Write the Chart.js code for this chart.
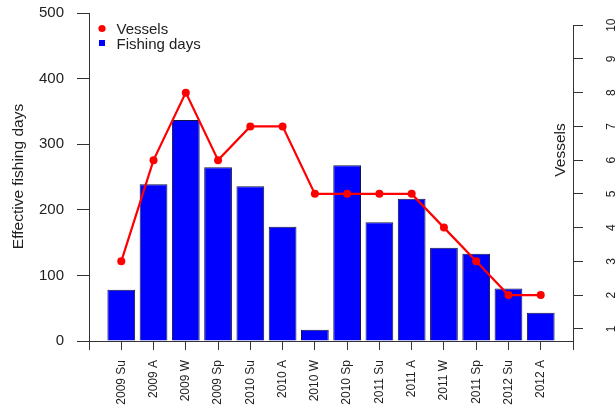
<!DOCTYPE html>
<html><head><meta charset="utf-8">
<script src="https://cdn.jsdelivr.net/npm/chart.js@4/dist/chart.umd.min.js"></script>
<style>html,body{margin:0;padding:0;background:#fff}#wrap{width:616px;height:408px}</style>
</head><body><div id="wrap"><canvas id="c" width="616" height="408"></canvas></div>
<script>
const categories = ['2009 Su','2009 A','2009 W','2009 Sp','2010 Su','2010 A','2010 W','2010 Sp','2011 Su','2011 A','2011 W','2011 Sp','2012 Su','2012 A'];
const fishingDays = [78,239,337,265,236,174,17,268,181,217,142,133,80,43];
const vessels = [3,6,8,6,7,7,5,5,5,5,4,3,2,2];
const daysTicks = [0,100,200,300,400,500];
const vesselTicks = [1,2,3,4,5,6,7,8,9,10];

const FONT = "'Liberation Sans', Arial, sans-serif";
Chart.defaults.font.family = FONT;
const AX = '#333';
const TXT = '#222';

// pad one empty slot on each side (axis runs one step beyond first/last bar)
const labels = [''].concat(categories, ['']);
const barData = [null].concat(fishingDays, [null]);
const lineData = [null].concat(vessels, [null]);

const overlay = {
  id: 'overlay',
  afterDraw(chart) {
    const ctx = chart.ctx, ca = chart.chartArea;
    const y1 = chart.scales.y1;
    ctx.save();
    ctx.strokeStyle = AX; ctx.lineWidth = 1;
    const xr = Math.round(ca.right) + 0.5;
    ctx.beginPath();
    ctx.moveTo(xr, y1.getPixelForValue(vesselTicks[vesselTicks.length-1]));
    ctx.lineTo(xr, ca.bottom);
    ctx.stroke();
    ctx.fillStyle = TXT;
    ctx.font = '12px ' + FONT;
    ctx.textAlign = 'center'; ctx.textBaseline = 'alphabetic';
    vesselTicks.forEach(v => {
      ctx.save();
      ctx.translate(615, y1.getPixelForValue(v));
      ctx.rotate(-Math.PI/2);
      ctx.fillText(String(v), 0, 0);
      ctx.restore();
    });
    ctx.font = '15.5px ' + FONT;
    ctx.save(); ctx.translate(22.8, 176.5); ctx.rotate(-Math.PI/2);
    ctx.fillText('Effective fishing days', 0, 0); ctx.restore();
    ctx.save(); ctx.translate(565, 150); ctx.rotate(-Math.PI/2);
    ctx.fillText('Vessels', 0, 0); ctx.restore();
    const ds = chart.data.datasets;
    ctx.font = '15px ' + FONT; ctx.textAlign = 'left';
    const lineDs = ds.find(d => d.type === 'line');
    const barDs = ds.find(d => d.type === 'bar');
    ctx.fillStyle = lineDs.borderColor;
    ctx.beginPath(); ctx.arc(102, 28.5, 3.6, 0, Math.PI*2); ctx.fill();
    ctx.fillStyle = barDs.backgroundColor;
    ctx.fillRect(99, 40, 6, 6);
    ctx.fillStyle = TXT;
    ctx.fillText(lineDs.label, 116.5, 33.8);
    ctx.fillText(barDs.label, 116.5, 48.6);
    ctx.restore();
  }
};

new Chart(document.getElementById('c'), {
  data: {
    labels: labels,
    datasets: [
      {
        type: 'line', label: 'Vessels', data: lineData, yAxisID: 'y1', xAxisID: 'x',
        borderColor: '#ff0000', backgroundColor: '#ff0000', borderWidth: 2.2,
        pointRadius: 4, pointBorderWidth: 0, pointBackgroundColor: '#ff0000',
        tension: 0, order: 1
      },
      {
        type: 'bar', label: 'Fishing days', data: barData, yAxisID: 'y', xAxisID: 'x',
        backgroundColor: '#0000ff', borderColor: '#141440', borderWidth: 1,
        barPercentage: 0.86, categoryPercentage: 1, order: 2
      }
    ]
  },
  options: {
    responsive: false, animation: false, devicePixelRatio: 1,
    layout: { padding: { top: 13, left: 0, right: 0, bottom: 0 } },
    plugins: { legend: { display: false }, tooltip: { enabled: false } },
    scales: {
      x: {
        type: 'category', offset: false,
        grid: { display: true, offset: false, drawOnChartArea: false, drawTicks: true, tickLength: 9, color: AX },
        border: { display: true, color: AX, width: 1 },
        ticks: { autoSkip: false, minRotation: 90, maxRotation: 90, padding: 10, color: TXT, font: { size: 12 } },
        afterFit: s => { s.height = 67; s.paddingLeft = 0; s.paddingRight = 0; }
      },
      y: {
        type: 'linear', position: 'left', min: 0, max: 500,
        afterBuildTicks: s => { s.ticks = daysTicks.map(v => ({ value: v })); },
        grid: { drawOnChartArea: false, tickLength: 12, color: AX },
        border: { display: true, color: AX, width: 1 },
        ticks: { padding: 13, color: TXT, font: { size: 15 } },
        afterFit: s => { s.width = 89; s.paddingTop = 0; s.paddingBottom = 0; }
      },
      y1: {
        type: 'linear', position: 'right', min: 0.64, max: 10.36,
        afterBuildTicks: s => { s.ticks = vesselTicks.map(v => ({ value: v })); },
        grid: { drawOnChartArea: false, tickLength: 10, color: AX },
        border: { display: false },
        ticks: { display: false },
        afterFit: s => { s.width = 43; s.paddingTop = 0; s.paddingBottom = 0; }
      }
    }
  },
  plugins: [overlay]
});
</script>
</body></html>
